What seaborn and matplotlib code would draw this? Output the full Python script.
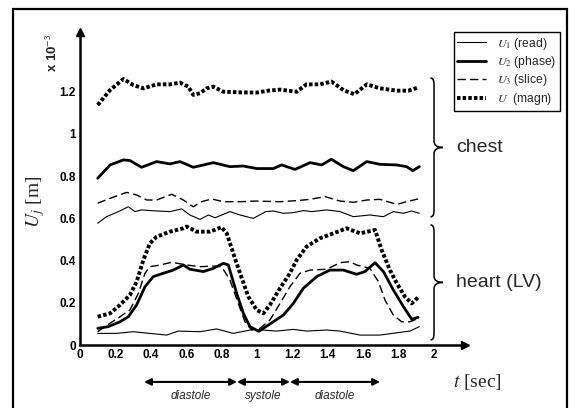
import numpy as np
import matplotlib
matplotlib.use("Agg")
import matplotlib.pyplot as plt
import seaborn as sns
from matplotlib.path import Path
from matplotlib.patches import PathPatch, Rectangle
from matplotlib.lines import Line2D


# ==========================================================
# DATA  (values in units of 1e-3 m, time in seconds)
# ==========================================================

# ---- chest ----
chest_magn_t = [0.10, 0.17, 0.245, 0.30, 0.358, 0.433, 0.508, 0.565, 0.612,
                0.64, 0.678, 0.716, 0.753, 0.81, 0.904, 0.998, 1.064, 1.13,
                1.224, 1.28, 1.356, 1.42, 1.488, 1.55, 1.62, 1.695, 1.79,
                1.855, 1.91]
chest_magn_v = [1.137, 1.208, 1.26, 1.232, 1.216, 1.235, 1.235, 1.243, 1.224,
                1.185, 1.193, 1.216, 1.224, 1.20, 1.197, 1.196, 1.205, 1.21,
                1.20, 1.235, 1.235, 1.248, 1.208, 1.188, 1.235, 1.216, 1.205,
                1.205, 1.22]

chest_phase_t = [0.10, 0.17, 0.245, 0.282, 0.348, 0.433, 0.508, 0.565, 0.64,
                 0.697, 0.753, 0.847, 0.923, 0.998, 1.092, 1.139, 1.215, 1.30,
                 1.365, 1.42, 1.488, 1.544, 1.62, 1.695, 1.79, 1.845, 1.88,
                 1.917]
chest_phase_v = [0.79, 0.853, 0.877, 0.874, 0.842, 0.869, 0.858, 0.869, 0.842,
                 0.853, 0.864, 0.845, 0.848, 0.836, 0.836, 0.853, 0.832, 0.864,
                 0.853, 0.88, 0.845, 0.826, 0.869, 0.856, 0.853, 0.845, 0.826,
                 0.845]

chest_slice_t = [0.10, 0.17, 0.263, 0.32, 0.377, 0.433, 0.518, 0.584, 0.64,
                 0.687, 0.744, 0.81, 0.904, 0.998, 1.13, 1.224, 1.30, 1.384,
                 1.469, 1.544, 1.62, 1.695, 1.79, 1.845, 1.91]
chest_slice_v = [0.672, 0.695, 0.723, 0.711, 0.687, 0.687, 0.714, 0.687, 0.655,
                 0.679, 0.692, 0.679, 0.679, 0.682, 0.679, 0.684, 0.69, 0.703,
                 0.682, 0.676, 0.687, 0.69, 0.666, 0.679, 0.692]

chest_read_t = [0.10, 0.15, 0.217, 0.273, 0.311, 0.348, 0.433, 0.508, 0.574,
                0.621, 0.678, 0.725, 0.763, 0.847, 0.904, 0.979, 1.05, 1.092,
                1.149, 1.205, 1.262, 1.309, 1.394, 1.469, 1.544, 1.638, 1.714,
                1.77, 1.827, 1.874, 1.917]
chest_read_v = [0.577, 0.608, 0.632, 0.655, 0.632, 0.64, 0.635, 0.632, 0.645,
                0.616, 0.595, 0.616, 0.603, 0.632, 0.616, 0.60, 0.632, 0.635,
                0.624, 0.627, 0.637, 0.632, 0.64, 0.632, 0.608, 0.616, 0.608,
                0.632, 0.624, 0.635, 0.624]

# ---- heart (LV) ----
heart_magn_t = [0.10, 0.17, 0.226, 0.282, 0.32, 0.358, 0.395, 0.433, 0.508,
                0.584, 0.603, 0.659, 0.734, 0.80, 0.829, 0.866, 0.904, 0.951,
                0.998, 1.036, 1.073, 1.13, 1.186, 1.224, 1.28, 1.356, 1.431,
                1.506, 1.582, 1.667, 1.704, 1.751, 1.79, 1.836, 1.874, 1.91]
heart_magn_v = [0.134, 0.15, 0.19, 0.237, 0.30, 0.403, 0.482, 0.513, 0.537,
                0.553, 0.561, 0.537, 0.537, 0.558, 0.529, 0.434, 0.34, 0.229,
                0.166, 0.15, 0.19, 0.269, 0.34, 0.403, 0.466, 0.506, 0.529,
                0.553, 0.529, 0.545, 0.45, 0.355, 0.292, 0.229, 0.197, 0.226]

heart_phase_t = [0.10, 0.16, 0.226, 0.273, 0.32, 0.367, 0.414, 0.471, 0.527,
                 0.584, 0.621, 0.697, 0.753, 0.81, 0.838, 0.885, 0.923, 0.96,
                 1.01, 1.092, 1.149, 1.205, 1.262, 1.337, 1.412, 1.488, 1.563,
                 1.61, 1.667, 1.714, 1.77, 1.827, 1.874, 1.91]
heart_phase_v = [0.079, 0.087, 0.11, 0.134, 0.19, 0.276, 0.324, 0.34, 0.355,
                 0.379, 0.359, 0.348, 0.363, 0.387, 0.379, 0.245, 0.15, 0.087,
                 0.065, 0.11, 0.142, 0.197, 0.269, 0.324, 0.355, 0.355, 0.335,
                 0.348, 0.39, 0.348, 0.261, 0.182, 0.122, 0.131]

heart_slice_t = [0.10, 0.17, 0.226, 0.282, 0.33, 0.367, 0.395, 0.452, 0.518,
                 0.603, 0.678, 0.753, 0.80, 0.847, 0.894, 0.932, 0.97, 1.017,
                 1.073, 1.13, 1.186, 1.243, 1.30, 1.394, 1.469, 1.525, 1.563,
                 1.638, 1.686, 1.723, 1.77, 1.817, 1.864, 1.91]
heart_slice_v = [0.063, 0.103, 0.134, 0.166, 0.245, 0.34, 0.371, 0.379, 0.392,
                 0.379, 0.371, 0.374, 0.371, 0.308, 0.197, 0.11, 0.071, 0.079,
                 0.118, 0.197, 0.276, 0.34, 0.355, 0.359, 0.39, 0.395, 0.379,
                 0.363, 0.30, 0.213, 0.142, 0.11, 0.11, 0.126]

heart_read_t = [0.10, 0.207, 0.30, 0.395, 0.49, 0.555, 0.678, 0.772, 0.866,
                0.979, 1.11, 1.205, 1.28, 1.394, 1.469, 1.582, 1.695, 1.79,
                1.864, 1.917]
heart_read_v = [0.055, 0.055, 0.063, 0.055, 0.047, 0.066, 0.063, 0.076, 0.055,
                0.074, 0.066, 0.074, 0.066, 0.071, 0.066, 0.047, 0.047, 0.058,
                0.066, 0.087]

# ticks
x_ticks = [0, 0.2, 0.4, 0.6, 0.8, 1, 1.2, 1.4, 1.6, 1.8, 2]
x_tick_labels = ["0", "0.2", "0.4", "0.6", "0.8", "1", "1.2", "1.4", "1.6", "1.8", "2"]
y_ticks = [0, 0.2, 0.4, 0.6, 0.8, 1, 1.2]
y_tick_labels = ["0", "0.2", "0.4", "0.6", "0.8", "1", "1.2"]

# cardiac phases (start, end, label)
phase_bounds = [0.362, 0.887, 1.186, 1.695]
phase_labels = ["diastole", "systole", "diastole"]

# brace ranges (bottom, top)
chest_range = [0.607, 1.265]
heart_range = [0.024, 0.569]

legend_labels = [r"$U_1$ (read)", r"$U_2$ (phase)", r"$U_3$ (slice)", r"$U$  (magn)"]


# ==========================================================
# STYLE
# ==========================================================

sns.set_style("white")
plt.rcParams["font.family"] = ["Liberation Sans", "DejaVu Sans"]
plt.rcParams["mathtext.fontset"] = "stix"

styles = {
    "read": dict(color="black", lw=0.8, ls="-"),
    "phase": dict(color="black", lw=2.0, ls="-"),
    "slice": dict(color="black", lw=1.0, ls=(0, (6, 3))),
    "magn": dict(color="black", lw=2.8, ls=(0, (0.9, 0.55))),
}

fig = plt.figure(figsize=(5.7, 4.08), dpi=100)

# outer frame
fig.patches.append(
    Rectangle((13 / 570, -0.02), 554 / 570, 1.0 - 9 / 408 + 0.02,
              transform=fig.transFigure, fill=False, lw=1.6, ec="black")
)

ax = fig.add_axes([80 / 570, 63 / 408, 385 / 570, 313 / 408])

x_max = 2.175
y_max = 1.483

series = [
    (chest_read_t, chest_read_v, "read"),
    (chest_phase_t, chest_phase_v, "phase"),
    (chest_slice_t, chest_slice_v, "slice"),
    (chest_magn_t, chest_magn_v, "magn"),
    (heart_read_t, heart_read_v, "read"),
    (heart_phase_t, heart_phase_v, "phase"),
    (heart_slice_t, heart_slice_v, "slice"),
    (heart_magn_t, heart_magn_v, "magn"),
]

for t, v, kind in series:
    st = styles[kind]
    sns.lineplot(x=t, y=v, ax=ax, sort=False, color=st["color"],
                 linewidth=st["lw"], linestyle=st["ls"], estimator=None)

ax.set_xlim(0, x_max)
ax.set_ylim(0, y_max)

# --------------------------------------
# AXES WITH ARROWS
# --------------------------------------

for side in ["top", "right"]:
    ax.spines[side].set_visible(False)
for side in ["left", "bottom"]:
    ax.spines[side].set_linewidth(1.8)
    ax.spines[side].set_color("black")

ax.plot(1, 0, ">", color="black", ms=6, transform=ax.transAxes, clip_on=False)
ax.plot(0, 1, "^", color="black", ms=6, transform=ax.transAxes, clip_on=False)

ax.set_xticks(x_ticks)
ax.set_xticklabels(x_tick_labels)
ax.set_yticks(y_ticks)
ax.set_yticklabels(y_tick_labels)
ax.tick_params(direction="in", length=3, width=1, colors="black",
               labelsize=8.5, pad=3)
for lab in ax.get_xticklabels() + ax.get_yticklabels():
    lab.set_fontweight("bold")

ax.text(-0.155, 1.385, r"x 10$^{\mathsf{-3}}$", rotation=90, fontsize=9.5,
        fontweight="bold", ha="center", va="center", transform=ax.transData,
        clip_on=False)

ax.text(-0.25, 0.68, r"$U_j$ [m]", rotation=90, fontsize=14,
        family=["Liberation Serif", "DejaVu Serif"], ha="center", va="center",
        clip_on=False)

ax.text(2.11, -0.175, r"$t$ [sec]", fontsize=14,
        family=["Liberation Serif", "DejaVu Serif"], ha="left", va="center",
        clip_on=False)

# --------------------------------------
# CARDIAC PHASE ARROWS
# --------------------------------------

arrow_y = -0.175
for i, lab in enumerate(phase_labels):
    x0, x1 = phase_bounds[i], phase_bounds[i + 1]
    ax.annotate("", xy=(x1, arrow_y), xytext=(x0, arrow_y),
                xycoords="data", annotation_clip=False,
                arrowprops=dict(arrowstyle="<|-|>", color="black", lw=1.5,
                                mutation_scale=10, shrinkA=0, shrinkB=0))
    ax.text((x0 + x1) / 2, -0.24, lab, style="italic", fontsize=8.5,
            ha="center", va="center", clip_on=False)

# --------------------------------------
# BRACES
# --------------------------------------

def draw_brace(ax, x0, bottom, top, wl=0.02, wr=0.05, r=0.03):
    mid = (bottom + top) / 2
    verts = [
        (x0 - wl, top), (x0, top), (x0, top - r),
        (x0, mid + r),
        (x0, mid), (x0 + wr, mid),
        (x0, mid), (x0, mid - r),
        (x0, bottom + r),
        (x0, bottom), (x0 - wl, bottom),
    ]
    codes = [Path.MOVETO, Path.CURVE3, Path.CURVE3,
             Path.LINETO,
             Path.CURVE3, Path.CURVE3,
             Path.CURVE3, Path.CURVE3,
             Path.LINETO,
             Path.CURVE3, Path.CURVE3]
    patch = PathPatch(Path(verts, codes), fill=False, lw=1.1, ec="black",
                      clip_on=False)
    ax.add_patch(patch)
    return mid

mid_c = draw_brace(ax, 2.0, chest_range[0], chest_range[1])
mid_h = draw_brace(ax, 2.0, heart_range[0], heart_range[1])

ax.text(2.125, mid_c, "chest", fontsize=14, ha="left", va="center",
        clip_on=False)
ax.text(2.125, mid_h, "heart (LV)", fontsize=14, ha="left", va="center",
        clip_on=False)

# --------------------------------------
# LEGEND
# --------------------------------------

handles = [
    Line2D([], [], color="black", lw=styles[k]["lw"], ls=styles[k]["ls"])
    for k in ["read", "phase", "slice", "magn"]
]
leg = fig.legend(handles, legend_labels, loc="upper right",
                 bbox_to_anchor=(560 / 570, 1 - 32 / 408), fontsize=8.7,
                 frameon=True, fancybox=False, framealpha=1,
                 edgecolor="black", handlelength=2.4, borderpad=0.3,
                 labelspacing=0.2, handletextpad=0.9, borderaxespad=0)
leg.get_frame().set_linewidth(1.0)

plt.savefig("out.png", dpi=100)
plt.close()
